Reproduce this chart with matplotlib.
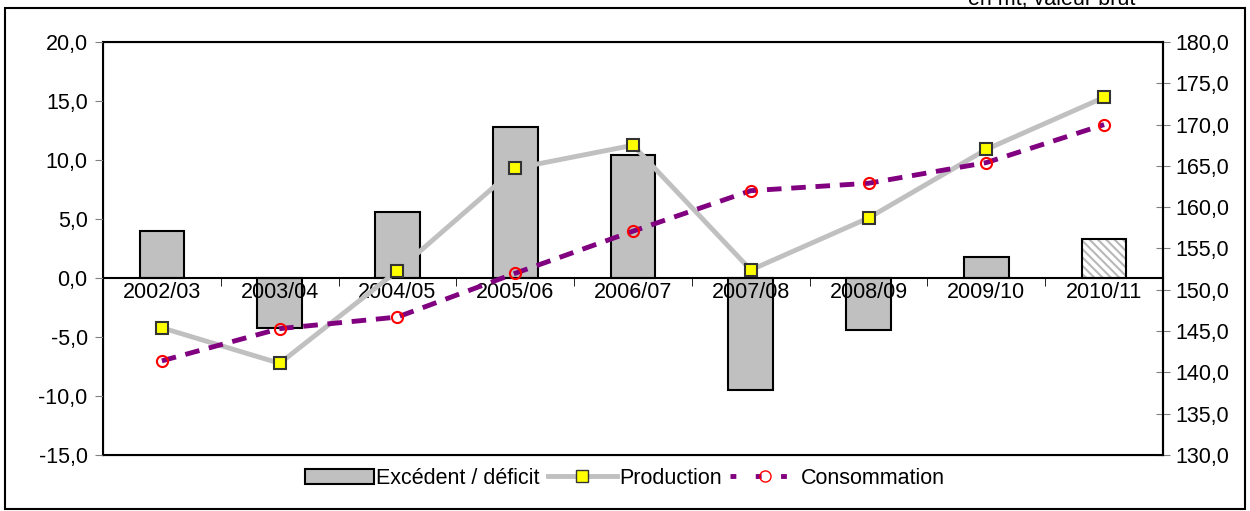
import numpy as np
import matplotlib.pyplot as plt
from matplotlib.patches import Rectangle, Patch
from matplotlib.lines import Line2D

plt.rcParams['font.family'] = ['Liberation Sans', 'DejaVu Sans']
plt.rcParams['hatch.linewidth'] = 1.5

campagnes = ["2002/03", "2003/04", "2004/05", "2005/06", "2006/07",
             "2007/08", "2008/09", "2009/10", "2010/11"]
excedent = [4.0, -4.2, 5.6, 12.8, 10.4, -9.5, -4.4, 1.8, 3.3]
production = [145.4, 141.1, 152.3, 164.7, 167.5, 152.4, 158.7, 167.0, 173.3]
consommation = [141.4, 145.3, 146.7, 152.0, 157.1, 162.0, 162.9, 165.4, 170.0]

FS = 15.5


def fmt(v, _=None):
    return f"{v:.1f}".replace(".", ",")


fig = plt.figure(figsize=(12.5, 5.11), dpi=100)
ax = fig.add_axes([0.0824, 0.1096, 0.848, 0.8082])
x = np.arange(len(campagnes))

# last season (estimate) drawn hatched
colors = ["#c0c0c0"] * (len(campagnes) - 1) + ["white"]
ax.bar(x[-1:], excedent[-1:], width=0.38, color="white", edgecolor="#b8b8b8",
       hatch="\\\\\\\\", linewidth=0, zorder=2)
ax.bar(x, excedent, width=0.38, color=colors, edgecolor="black", linewidth=1.5, zorder=2.1)
ax.patches[-1].set_fill(False)

ax.set_xlim(-0.5, len(campagnes) - 0.5)
ax.set_ylim(-15, 20)
ax.set_yticks(np.arange(-15, 21, 5))
ax.yaxis.set_major_formatter(plt.FuncFormatter(fmt))
ax.tick_params(axis="y", labelsize=FS, direction="out", length=6, color="#808080", pad=5)

ax.set_axisbelow(False)
ax.spines["bottom"].set_position(("data", 0))
ax.set_xticks(x)
ax.set_xticklabels(campagnes)
ax.set_xticks(np.arange(0.5, len(campagnes) - 1, 1), minor=True)
ax.tick_params(axis="x", which="major", length=0, labelsize=FS, pad=3)
ax.tick_params(axis="x", which="minor", length=6, direction="out")
ax.plot([0, 1], [0, 0], transform=ax.transAxes, color="black", lw=1.5, clip_on=False)
for s in ax.spines.values():
    s.set_linewidth(1.5)

ax2 = ax.twinx()
ax2.set_ylim(130, 180)
ax2.set_yticks(np.arange(130, 181, 5))
ax2.yaxis.set_major_formatter(plt.FuncFormatter(fmt))
ax2.tick_params(axis="y", labelsize=FS, direction="inout", length=10, color="#808080", pad=4)
ax2.spines["right"].set_linewidth(1.5)

ax2.plot(x, production, color="#c0c0c0", lw=3.5, marker="s", ms=9,
         mfc="#ffff00", mec="#333333", mew=1.5, zorder=3)
ax2.plot(x, consommation, color="#800080", lw=3.5, ls=(0, (3, 2)), marker="o", ms=8,
         mfc="none", mec="#ff0000", mew=1.5, zorder=4)

handles = [
    Patch(facecolor="#c0c0c0", edgecolor="black", linewidth=1.5),
    Line2D([], [], color="#c0c0c0", lw=3.5, marker="s", ms=9, mfc="#ffff00", mec="#333333"),
    Line2D([], [], color="#800080", lw=3.5, ls=(0, (1.2, 4)), marker="o", ms=8, mfc="none", mec="#ff0000"),
]
fig.legend(handles, ["Excédent / déficit", "Production", "Consommation"], loc="center",
           bbox_to_anchor=(0.5, 0.064), ncol=3, frameon=False, fontsize=FS,
           handlelength=3.2, handletextpad=0.1, columnspacing=0.4)

fig.patches.append(Rectangle((0.004, 0.004), 0.992, 0.98, transform=fig.transFigure,
                             fill=False, edgecolor="black", lw=1.5))
fig.text(0.908, 1.0, "en mt, valeur brut", ha="right", va="center", fontsize=FS)

fig.savefig("out.png", dpi=100)
